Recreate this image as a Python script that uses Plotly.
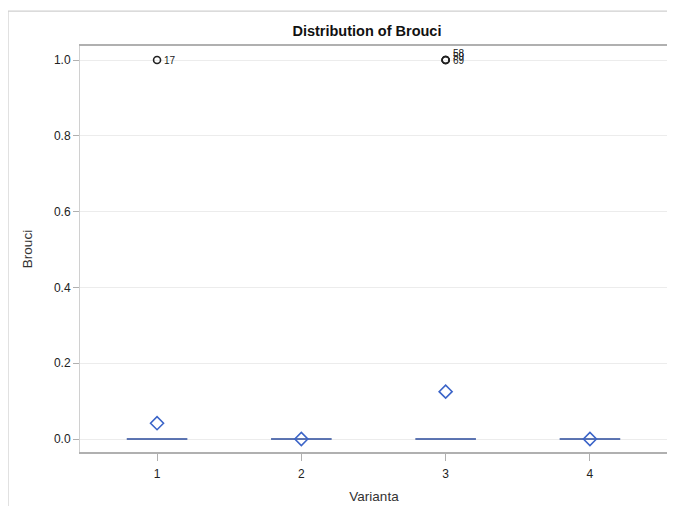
import plotly.graph_objects as go

# Varianta categories and box statistics for Brouci
varianta = ["1", "2", "3", "4"]
q1 = [0, 0, 0, 0]
median = [0, 0, 0, 0]
q3 = [0, 0, 0, 0]
lower = [0, 0, 0, 0]
upper = [0, 0, 0, 0]
means = [0.0417, 0.0, 0.125, 0.0]

# outliers (value 1) with their observation labels
out_x = ["1", "3", "3", "3"]
out_y = [1, 1, 1, 1]
out_lab = ["17", "69", "59", "58"]
out_shift = [0, 0, 4, 7]

fig = go.Figure()

fig.add_trace(go.Box(
    x=varianta, q1=q1, median=median, q3=q3,
    lowerfence=lower, upperfence=upper,
    boxpoints=False, width=0.42,
    line=dict(color="#2a4a9a", width=1.6),
    fillcolor="rgba(0,0,0,0)", showlegend=False, hoverinfo="skip"
))

fig.add_trace(go.Scatter(
    x=varianta, y=means, mode="markers",
    marker=dict(symbol="diamond-open", size=10, color="#3b64c8", line=dict(width=1.6)),
    showlegend=False
))

fig.add_trace(go.Scatter(
    x=out_x, y=out_y, mode="markers",
    marker=dict(symbol="circle-open", size=7, color="#222", line=dict(width=1.6)),
    showlegend=False
))

# labels next to the outliers (category axis -> use category index)
for xv, yv, lab, sh in zip(out_x, out_y, out_lab, out_shift):
    fig.add_annotation(x=varianta.index(xv), y=yv, text=lab, showarrow=False, xanchor="left",
                       xshift=5, yshift=sh, font=dict(size=10, color="#222"))

# outer frame of the graph
fig.add_shape(type="path", xref="paper", yref="paper",
              path="M -0.1224 -0.2 L -0.1224 1.086 L 1.1 1.086",
              line=dict(color="#d0d0d0", width=1.2))

# page body has an 8px margin, so the figure is 8px smaller than the window
fig.update_layout(
    width=667, height=498,
    margin=dict(l=72, r=7, t=38, b=54, autoexpand=False),
    paper_bgcolor="white", plot_bgcolor="white",
    font=dict(family="Liberation Sans, Arial", size=12, color="#333"),
    title=dict(text="<b>Distribution of Brouci</b>", x=0.488, xref="paper", xanchor="center",
               y=1 - 23 / 498, yanchor="middle", font=dict(size=14.5, color="#111")),
)
fig.update_xaxes(
    type="category", automargin=False, range=[-0.534, 3.541],
    title=dict(text="Varianta", font=dict(size=13.5, color="#333"), standoff=11),
    showline=True, linecolor="#b0b0b0", linewidth=1.5, mirror=True,
    ticks="outside", ticklen=7, tickcolor="#b0b0b0", showgrid=False,
    ticklabelstandoff=3,
    tickfont=dict(size=12, color="#222")
)
fig.update_yaxes(
    automargin=False,
    title=dict(text="Brouci", font=dict(size=13.5, color="#333"), standoff=18),
    range=[-0.0343, 1.037], tickvals=[0, 0.2, 0.4, 0.6, 0.8, 1.0], tickformat=".1f",
    showline=True, linecolor="#d0d0d0", linewidth=1, mirror=True,
    ticks="outside", ticklen=6, tickcolor="#b0b0b0",
    showgrid=True, gridcolor="#ececec", zeroline=False,
    tickfont=dict(size=12, color="#222")
)

fig.write_html("out.html")
